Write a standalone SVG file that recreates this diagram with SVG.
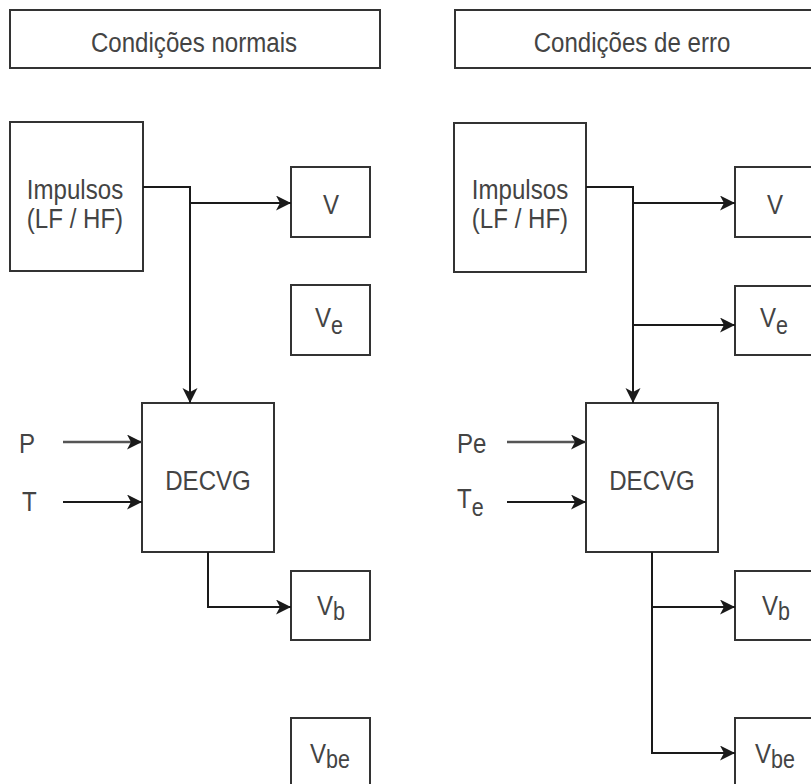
<svg xmlns="http://www.w3.org/2000/svg" width="811" height="784" viewBox="0 0 811 784">
  <defs>
    <marker id="arrow" markerUnits="userSpaceOnUse" markerWidth="18" markerHeight="16" refX="15" refY="7.5" orient="auto">
      <path d="M0,0 L15,7.5 L0,15 L4,7.5 Z" fill="#1a1a1a"/>
    </marker>
    <style>
      .box { fill: #ffffff; stroke: #333333; stroke-width: 2; }
      .lbl { font-family: "Liberation Sans", Arial, sans-serif; font-size: 28px; fill: #444444; }
      .mid { text-anchor: middle; }
      .sub { font-size: 25px; }
      .wire { fill: none; stroke: #1a1a1a; stroke-width: 2; marker-end: url(#arrow); }
      .wire-grey { stroke: #555555; stroke-width: 2.5; }
    </style>
  </defs>

  <rect width="811" height="784" fill="#ffffff"/>

  <!-- Column headers -->
  <g id="header-normal">
    <rect class="box" x="10" y="10" width="370" height="58"/>
    <text class="lbl mid" transform="translate(194,52) scale(0.86,1)">Condições normais</text>
  </g>
  <g id="header-error">
    <rect class="box" x="455" y="10" width="370" height="58"/>
    <text class="lbl mid" transform="translate(632,52) scale(0.86,1)">Condições de erro</text>
  </g>

  <!-- Normal conditions -->
  <g id="impulsos-n">
    <rect class="box" x="10" y="122" width="133" height="149"/>
    <text class="lbl mid" transform="translate(75,199) scale(0.86,1)">Impulsos</text>
    <text class="lbl mid" transform="translate(75,228) scale(0.86,1)">(LF / HF)</text>
  </g>
  <g id="v-n">
    <rect class="box" x="291" y="167" width="79" height="70"/>
    <text class="lbl mid" transform="translate(331,214) scale(0.86,1)">V</text>
  </g>
  <g id="ve-n">
    <rect class="box" x="291" y="285" width="79" height="70"/>
    <text class="lbl" transform="translate(315,327) scale(0.86,1)">V<tspan class="sub" dy="7">e</tspan></text>
  </g>
  <g id="p-n">
    <text class="lbl" transform="translate(19,453) scale(0.86,1)">P</text>
  </g>
  <g id="t-n">
    <text class="lbl" transform="translate(22,511) scale(0.86,1)">T</text>
  </g>
  <g id="decvg-n">
    <rect class="box" x="142" y="403" width="132" height="149"/>
    <text class="lbl mid" transform="translate(208,490) scale(0.86,1)">DECVG</text>
  </g>
  <g id="vb-n">
    <rect class="box" x="291" y="571" width="79" height="69"/>
    <text class="lbl" transform="translate(317,615) scale(0.86,1)">V<tspan class="sub" dy="5">b</tspan></text>
  </g>
  <g id="vbe-n">
    <rect class="box" x="291" y="718" width="79" height="72"/>
    <text class="lbl" transform="translate(310,763) scale(0.86,1)">V<tspan class="sub" dy="5">be</tspan></text>
  </g>

  <!-- Error conditions -->
  <g id="impulsos-e">
    <rect class="box" x="454" y="123" width="132" height="149"/>
    <text class="lbl mid" transform="translate(520,199) scale(0.86,1)">Impulsos</text>
    <text class="lbl mid" transform="translate(520,228) scale(0.86,1)">(LF / HF)</text>
  </g>
  <g id="v-e">
    <rect class="box" x="735" y="167" width="80" height="70"/>
    <text class="lbl mid" transform="translate(775,214) scale(0.86,1)">V</text>
  </g>
  <g id="ve-e">
    <rect class="box" x="735" y="286" width="80" height="69"/>
    <text class="lbl" transform="translate(760,327) scale(0.86,1)">V<tspan class="sub" dy="7">e</tspan></text>
  </g>
  <g id="p-e">
    <text class="lbl" transform="translate(457,453) scale(0.86,1)">Pe</text>
  </g>
  <g id="t-e">
    <text class="lbl" transform="translate(457,508) scale(0.86,1)">T<tspan class="sub" dy="8">e</tspan></text>
  </g>
  <g id="decvg-e">
    <rect class="box" x="586" y="403" width="132" height="149"/>
    <text class="lbl mid" transform="translate(652,490) scale(0.86,1)">DECVG</text>
  </g>
  <g id="vb-e">
    <rect class="box" x="735" y="571" width="80" height="69"/>
    <text class="lbl" transform="translate(762,615) scale(0.86,1)">V<tspan class="sub" dy="5">b</tspan></text>
  </g>
  <g id="vbe-e">
    <rect class="box" x="735" y="718" width="80" height="72"/>
    <text class="lbl" transform="translate(755,763) scale(0.86,1)">V<tspan class="sub" dy="5">be</tspan></text>
  </g>

  <!-- Connectors -->
  <g id="connectors">
    <path class="wire" d="M143,187 H190 V403"/>
    <path class="wire" d="M190,203 H291"/>
    <path class="wire wire-grey" d="M63,442 H142"/>
    <path class="wire" d="M63,502 H142"/>
    <path class="wire" d="M208,552 V607 H291"/>

    <path class="wire" d="M586,187 H633 V403"/>
    <path class="wire" d="M633,203 H735"/>
    <path class="wire" d="M633,325 H735"/>
    <path class="wire wire-grey" d="M507,442 H586"/>
    <path class="wire" d="M507,502 H586"/>
    <path class="wire" d="M652,552 V753 H735"/>
    <path class="wire" d="M652,607 H735"/>
  </g>
</svg>
